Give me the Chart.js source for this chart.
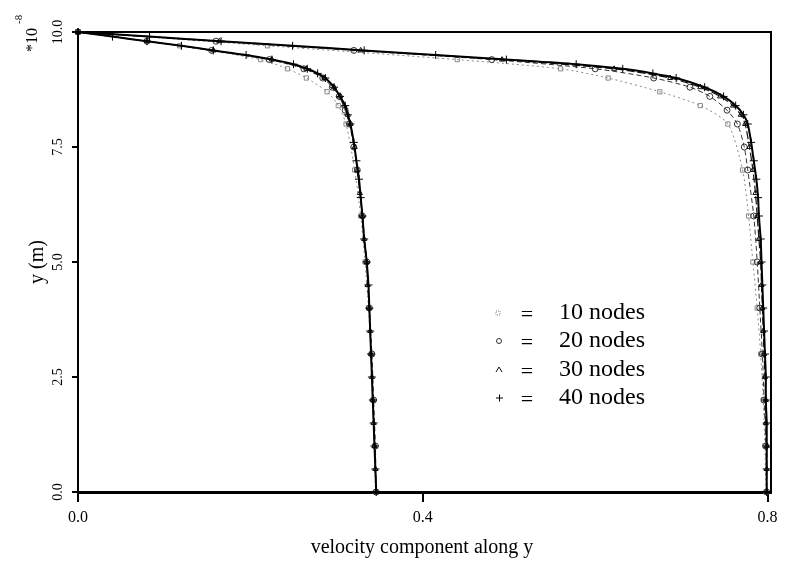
<!DOCTYPE html>
<html>
<head>
<meta charset="utf-8">
<script src="https://cdn.jsdelivr.net/npm/chart.js@4.4.0/dist/chart.umd.min.js"></script>
<style>
  html, body { margin: 0; padding: 0; background: #fff; }
  #wrap { width: 789px; height: 573px; }
</style>
</head>
<body>
<div id="wrap"><canvas id="velChart" width="789" height="573"></canvas></div>
<script>
// ===== Data =====
// node heights (units of 1e-8 m) for each mesh, wall at y = 10
const yNodes10 = [10, 9.7, 9.4, 9.2, 9.0, 8.7, 8.4, 8.0, 7.0, 6.0, 5.0, 4.0, 3.0, 2.0, 1.0, 0];
const yNodes20 = [10, 9.8, 9.6, 9.4, 9.2, 9.0, 8.8, 8.6, 8.3, 8.0, 7.5, 7.0, 6.0, 5.0, 4.0, 3.0, 2.0, 1.0, 0];
const yNodes30 = [10, 9.8, 9.6, 9.4, 9.2, 9.0, 8.8, 8.6, 8.4, 8.2, 8.0, 7.5, 7.0, 6.5, 6.0, 5.5, 5.0, 4.5, 4.0, 3.5, 3.0, 2.5, 2.0, 1.5, 1.0, 0.5, 0];
const yNodes40 = [10, 9.9, 9.8, 9.7, 9.6, 9.5, 9.4, 9.3, 9.2, 9.1, 9.0, 8.8, 8.6, 8.4, 8.2, 8.0, 7.6, 7.2, 6.8, 6.4, 6.0, 5.5, 5.0, 4.5, 4.0, 3.5, 3.0, 2.5, 2.0, 1.5, 1.0, 0.5, 0];

// velocity profiles, lower-speed section
const uSlow10 = [0, 0.118, 0.212, 0.243, 0.265, 0.289, 0.302, 0.311, 0.321, 0.328, 0.333, 0.337, 0.340, 0.342, 0.344, 0.345];
const uSlow20 = [0, 0.08, 0.155, 0.222, 0.262, 0.284, 0.295, 0.303, 0.310, 0.315, 0.320, 0.324, 0.330, 0.335, 0.338, 0.341, 0.343, 0.345, 0.346];
const uSlow30 = [0, 0.08, 0.157, 0.225, 0.265, 0.286, 0.297, 0.304, 0.309, 0.313, 0.316, 0.321, 0.324, 0.327, 0.330, 0.332, 0.335, 0.336, 0.338, 0.339, 0.340, 0.341, 0.342, 0.343, 0.344, 0.345, 0.346];
const uSlow40 = [0, 0.04, 0.08, 0.12, 0.157, 0.195, 0.225, 0.250, 0.266, 0.278, 0.287, 0.297, 0.304, 0.310, 0.313, 0.316, 0.320, 0.323, 0.326, 0.328, 0.330, 0.332, 0.335, 0.337, 0.338, 0.339, 0.340, 0.341, 0.342, 0.343, 0.344, 0.345, 0.346];

// velocity profiles, higher-speed section
const uFast10 = [0, 0.22, 0.44, 0.56, 0.615, 0.675, 0.722, 0.754, 0.771, 0.778, 0.783, 0.788, 0.792, 0.795, 0.797, 0.798];
const uFast20 = [0, 0.16, 0.32, 0.48, 0.60, 0.668, 0.71, 0.733, 0.753, 0.765, 0.773, 0.777, 0.784, 0.788, 0.791, 0.794, 0.796, 0.798, 0.799];
const uFast30 = [0, 0.164, 0.328, 0.492, 0.622, 0.687, 0.722, 0.745, 0.760, 0.769, 0.774, 0.779, 0.783, 0.786, 0.788, 0.790, 0.792, 0.793, 0.794, 0.795, 0.796, 0.797, 0.798, 0.798, 0.799, 0.799, 0.799];
const uFast40 = [0, 0.083, 0.166, 0.249, 0.332, 0.415, 0.497, 0.578, 0.632, 0.667, 0.694, 0.727, 0.749, 0.763, 0.772, 0.777, 0.781, 0.784, 0.787, 0.789, 0.790, 0.792, 0.793, 0.794, 0.795, 0.796, 0.797, 0.798, 0.798, 0.799, 0.799, 0.799, 0.799];

const meshLabels = ['10 nodes', '20 nodes', '30 nodes', '40 nodes'];
const xTickValues = [0, 0.4, 0.8];
const yTickValues = [0, 2.5, 5, 7.5, 10];

// ===== Styles per mesh =====
const meshStyles = [
  { color: '#8a8a8a', width: 1, dash: [2, 3], point: 'rect', radius: 3 },
  { color: '#333', width: 1, dash: [5, 3], point: 'circle', radius: 3 },
  { color: '#111', width: 1.2, dash: [8, 3], point: 'triangle', radius: 3 },
  { color: '#000', width: 2, dash: [], point: 'cross', radius: 4 }
];

const meshGrids = [yNodes10, yNodes20, yNodes30, yNodes40];
const slowProfiles = [uSlow10, uSlow20, uSlow30, uSlow40];
const fastProfiles = [uFast10, uFast20, uFast30, uFast40];

function makeSet(i, xs) {
  const s = meshStyles[i];
  return {
    label: meshLabels[i],
    data: meshGrids[i].map((y, k) => ({ x: xs[k], y: y })),
    showLine: true,
    borderColor: s.color,
    borderWidth: s.width,
    borderDash: s.dash,
    tension: 0.25,
    pointStyle: s.point,
    pointRadius: s.radius,
    pointBorderWidth: 1,
    pointBorderColor: s.color,
    pointBackgroundColor: 'rgba(255,255,255,0)',
    order: 3 - i,
    clip: 6
  };
}

const datasets = [];
for (let i = 0; i < 4; i++) {
  datasets.push(makeSet(i, slowProfiles[i]));
  datasets.push(makeSet(i, fastProfiles[i]));
}

const SERIF = '"Liberation Serif", "Times New Roman", serif';

// ===== Frame, rotated labels, titles and legend =====
const decorations = {
  id: 'decorations',
  afterDraw(chart) {
    const { ctx, chartArea: a, scales: { y } } = chart;
    ctx.save();
    ctx.strokeStyle = '#000';
    ctx.lineWidth = 2;
    ctx.setLineDash([]);
    ctx.strokeRect(a.left, a.top, a.right - a.left, a.bottom - a.top);

    ctx.fillStyle = '#000';
    // y tick labels, reading upwards
    ctx.font = '14px ' + SERIF;
    ctx.textAlign = 'center';
    ctx.textBaseline = 'middle';
    yTickValues.forEach(v => {
      ctx.save();
      ctx.translate(58, y.getPixelForValue(v));
      ctx.rotate(-Math.PI / 2);
      ctx.fillText(v.toFixed(1), 0, 0);
      ctx.restore();
    });

    // y axis title
    ctx.save();
    ctx.translate(38, 262);
    ctx.rotate(-Math.PI / 2);
    ctx.font = '20px ' + SERIF;
    ctx.fillText('y (m)', 0, 0);
    ctx.restore();

    // exponent marker *10^-8
    ctx.save();
    ctx.translate(37, 52);
    ctx.rotate(-Math.PI / 2);
    ctx.textAlign = 'left';
    ctx.textBaseline = 'alphabetic';
    ctx.font = '16px ' + SERIF;
    ctx.fillText('*10', 0, 0);
    ctx.font = '11px ' + SERIF;
    ctx.fillText('-8', 28, -15);
    ctx.restore();

    // x axis title
    ctx.font = '20px ' + SERIF;
    ctx.textAlign = 'center';
    ctx.fillText('velocity component along y', 422, 548);

    // legend
    const rows = [313, 341, 370, 398];
    meshLabels.forEach((label, i) => {
      const s = meshStyles[i];
      const ry = rows[i];
      ctx.strokeStyle = s.color;
      ctx.lineWidth = 1;
      ctx.beginPath();
      if (s.point === 'rect') {
        ctx.setLineDash([1, 1]);
        ctx.strokeRect(496, ry - 2, 4, 4);
        ctx.setLineDash([]);
      } else if (s.point === 'circle') {
        ctx.arc(499, ry, 2.5, 0, Math.PI * 2);
        ctx.stroke();
      } else if (s.point === 'triangle') {
        ctx.moveTo(496, ry + 2);
        ctx.lineTo(499, ry - 3);
        ctx.lineTo(502, ry + 2);
        ctx.stroke();
      } else {
        ctx.moveTo(496, ry);
        ctx.lineTo(503, ry);
        ctx.moveTo(499.5, ry - 3.5);
        ctx.lineTo(499.5, ry + 3.5);
        ctx.stroke();
      }
      ctx.fillStyle = '#000';
      ctx.font = '22px ' + SERIF;
      ctx.textAlign = 'center';
      ctx.fillText('=', 527, ry + 2);
      ctx.font = '24px ' + SERIF;
      ctx.textAlign = 'left';
      ctx.fillText(label, 559, ry);
    });
    ctx.restore();
  }
};

new Chart(document.getElementById('velChart'), {
  type: 'scatter',
  data: { datasets: datasets },
  options: {
    responsive: false,
    animation: false,
    devicePixelRatio: 1,
    layout: { padding: { top: 32, right: 18, left: 0, bottom: 0 } },
    plugins: {
      legend: { display: false },
      tooltip: { enabled: false }
    },
    scales: {
      x: {
        type: 'linear',
        min: 0,
        max: 0.804,
        afterBuildTicks: scale => { scale.ticks = xTickValues.map(v => ({ value: v })); },
        afterFit: scale => { scale.height = 81; },
        ticks: {
          color: '#000',
          font: { family: SERIF, size: 16 },
          padding: 6,
          maxRotation: 0,
          callback: v => Number(v).toFixed(1)
        },
        grid: { drawOnChartArea: false, drawTicks: true, tickLength: 10, color: '#000', lineWidth: 2 },
        border: { display: true, color: '#000', width: 3 }
      },
      y: {
        type: 'linear',
        min: 0,
        max: 10,
        afterBuildTicks: scale => { scale.ticks = yTickValues.map(v => ({ value: v })); },
        afterFit: scale => { scale.width = 78; },
        ticks: { display: false },
        grid: { drawOnChartArea: false, drawTicks: true, tickLength: 6, color: '#000', lineWidth: 2 },
        border: { display: true, color: '#000', width: 2 }
      }
    }
  },
  plugins: [decorations]
});
</script>
</body>
</html>
